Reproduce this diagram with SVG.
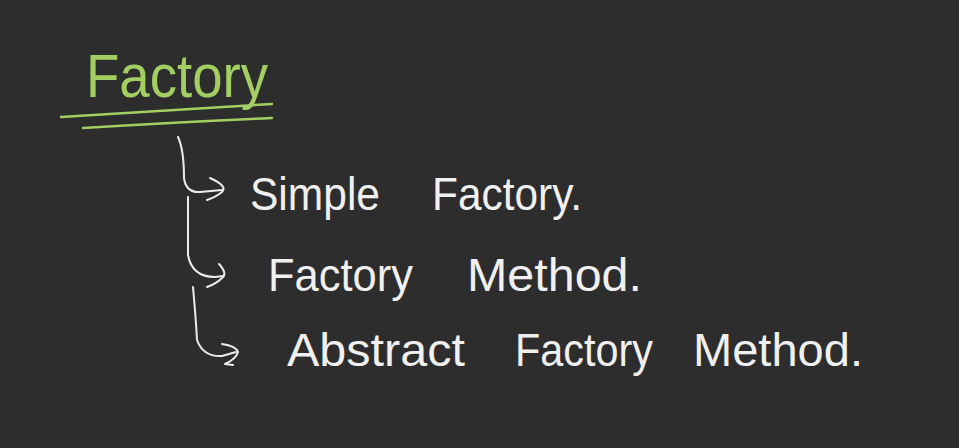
<svg xmlns="http://www.w3.org/2000/svg" width="959" height="448" viewBox="0 0 959 448">
<style>
.bg{fill:#2d2d2d}
.t{font-family:"Liberation Sans","DejaVu Sans",sans-serif;fill:#f0f0f0;font-size:46px}
.g{fill:#a3cf62;font-size:62px}
.ink{fill:none;stroke:#ececec;stroke-width:2;stroke-linecap:round;stroke-linejoin:round}
.gl{fill:none;stroke:#a3cf62;stroke-width:2.5;stroke-linecap:round}
</style>
<rect class="bg" width="959" height="448"/>
<g id="title">
<text class="t g" x="86" y="97" textLength="182" lengthAdjust="spacingAndGlyphs">Factory</text>
<path class="gl" d="M61 117 Q170 110 272 104"/>
<path class="gl" d="M83 128 Q180 122 272 118"/>
</g>
<g id="connectors">
<path class="ink" d="M178 137 Q184 150 184 178 Q186 193 200 192 L222 190"/>
<path class="ink" d="M210 178 Q228 186 222 192 Q216 197 207 200"/>
<path class="ink" d="M188 197 Q188 230 188 255 Q192 277 215 277 L223 276"/>
<path class="ink" d="M219 264 Q228 274 222 278 Q216 284 207 287"/>
<path class="ink" d="M193 287 Q196 320 197 340 Q203 357 222 356 L236 352"/>
<path class="ink" d="M222 344 Q236 346 238 352 Q236 359 225 364 L233 365"/>
</g>
<g id="simple">
<text class="t" y="210"><tspan x="250" textLength="130" lengthAdjust="spacingAndGlyphs">Simple</tspan><tspan x="432" textLength="150" lengthAdjust="spacingAndGlyphs">Factory.</tspan></text>
</g>
<g id="method">
<text class="t" y="291"><tspan x="268" textLength="145" lengthAdjust="spacingAndGlyphs">Factory</tspan><tspan x="467" textLength="175" lengthAdjust="spacingAndGlyphs">Method.</tspan></text>
</g>
<g id="abstract">
<text class="t" y="366"><tspan x="287" textLength="178" lengthAdjust="spacingAndGlyphs">Abstract</tspan><tspan x="515" textLength="138" lengthAdjust="spacingAndGlyphs">Factory</tspan><tspan x="693" textLength="170" lengthAdjust="spacingAndGlyphs">Method.</tspan></text>
</g>
</svg>
